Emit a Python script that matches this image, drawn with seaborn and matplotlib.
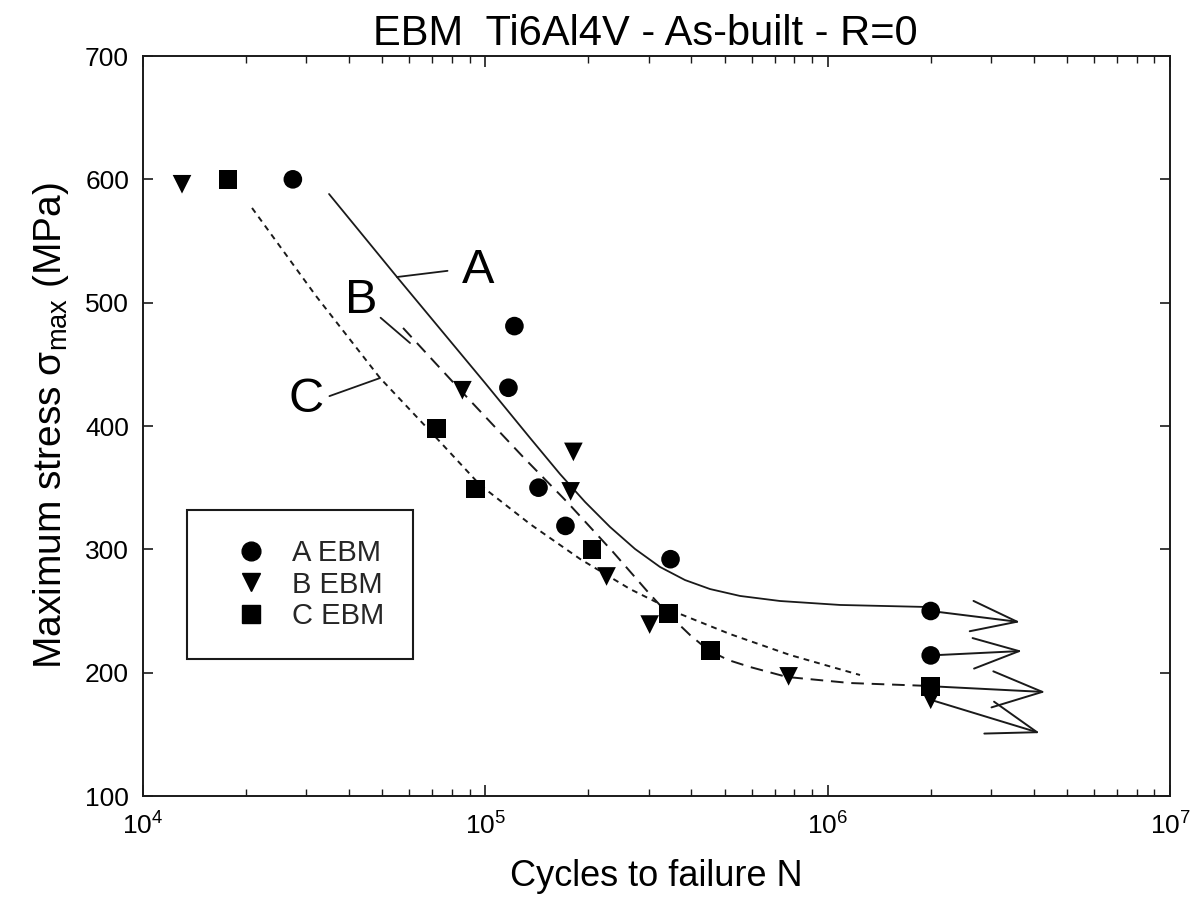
import numpy as np
import pandas as pd
import matplotlib
matplotlib.use("Agg")
import matplotlib.pyplot as plt
import seaborn as sns
from matplotlib.ticker import LogLocator, FixedLocator, NullLocator, LogFormatterSciNotation
from matplotlib.lines import Line2D

# ---------------- data ----------------
a_N = [27400, 121600, 116800, 143000, 171400, 347500, 2.0e6, 2.0e6]
a_S = [600, 481, 431, 350, 319, 292, 250, 214]
b_N = [13000, 85700, 180800, 177500, 226000, 302000, 769000, 2.0e6]
b_S = [596, 429, 379, 347, 278, 239, 197, 178]
c_N = [17700, 71900, 93500, 205000, 343000, 455000, 2.0e6]
c_S = [600, 398, 349, 300, 248, 218, 189]
series_names = ["A EBM", "B EBM", "C EBM"]

# S-N curves as drawn in the reference
curveA_N = [34950, 55200, 99800, 135100, 165200, 195600, 231400, 273700, 323800, 383100,
            453300, 554700, 726100, 1087000, 1990000]
curveA_S = [588.1, 520.8, 434.9, 390.3, 361.1, 338.4, 318.1, 300.3, 285.7, 275.1,
            267.8, 262.2, 258.1, 254.9, 253.2]
curveB_N = [57500, 85500, 128900, 173300, 236100, 296800, 339600, 396300, 447400, 511700,
            593300, 760800, 1163000, 1990000]
curveB_S = [479.5, 427.6, 374.9, 338.4, 297.8, 266.2, 248.4, 230.5, 218.4, 210.3,
            204.6, 196.5, 191.6, 189.2]
curveC_N = [20820, 32020, 49250, 68940, 96500, 135100, 189100, 264700, 370500, 518700,
            776700, 1243000]
curveC_S = [576.8, 505.4, 438.9, 395.9, 352.2, 320.5, 292.2, 267.8, 247.6, 231.3,
            214.3, 198.1]

# run-out arrows (start -> tip)
run_N0 = [2.0e6, 2.0e6, 2.0e6, 2.0e6]
run_S0 = [250, 214, 189, 178]
run_N1 = [3.65e6, 3.70e6, 4.32e6, 4.17e6]
run_S1 = [241, 217.6, 184.3, 151]
run_head = [(33, 11), (33, 11), (36, 13), (36, 12)]

# curve labels: text position and attach point on the curve
lab_txt = ["A", "B", "C"]
lab_N = [95200, 43350, 29930]
lab_S = [516, 491.6, 411.3]
lab_curveN = [55200, 60260, 49250]
lab_curveS = [520.8, 467.3, 438.9]
lab_relpos = [(0.0, 0.53), (1.0, 0.18), (1.0, 0.53)]
lab_shrink = [8, 0, 2]

x_ticks = [1e4, 1e5, 1e6, 1e7]
y_ticks = [100, 200, 300, 400, 500, 600, 700]

# ---------------- style ----------------
sns.set_theme(style="ticks")
plt.rcParams["font.family"] = ["Liberation Sans", "DejaVu Sans"]
plt.rcParams["mathtext.fontset"] = "custom"
plt.rcParams["mathtext.rm"] = "Liberation Sans"
plt.rcParams["mathtext.it"] = "Liberation Sans:italic"
plt.rcParams["mathtext.default"] = "regular"

INK = "#1a1a1a"

fig = plt.figure(figsize=(12.01, 9.05), dpi=100)
ax = fig.add_axes([143 / 1201, 1 - 796 / 905, (1170 - 143) / 1201, (796 - 56) / 905])
ax.set_xscale("log")

df = pd.DataFrame({
    "N": a_N + b_N + c_N,
    "S": a_S + b_S + c_S,
    "series": [series_names[0]] * len(a_N) + [series_names[1]] * len(b_N) + [series_names[2]] * len(c_N),
})
markers = {series_names[0]: "o", series_names[1]: "v", series_names[2]: "s"}

# curves
sns.lineplot(x=curveA_N, y=curveA_S, sort=False, estimator=None, color=INK, lw=1.3, ax=ax)
sns.lineplot(x=curveB_N, y=curveB_S, sort=False, estimator=None, color=INK, lw=1.4,
             linestyle=(0, (6.5, 4)), ax=ax)
sns.lineplot(x=curveC_N, y=curveC_S, sort=False, estimator=None, color=INK, lw=1.4,
             linestyle=(0, (3, 2.6)), ax=ax)

# run-out arrows
for n0, s0, n1, s1, (hl, hw) in zip(run_N0, run_S0, run_N1, run_S1, run_head):
    ax.annotate("", xy=(n1, s1), xytext=(n0, s0),
                arrowprops=dict(arrowstyle=f"->,head_length={hl},head_width={hw}",
                                mutation_scale=1, lw=1.4, color=INK,
                                shrinkA=0, shrinkB=0))

# data points
sns.scatterplot(data=df, x="N", y="S", style="series", markers=markers,
                color="black", s=180, linewidth=0, legend=False, ax=ax, zorder=5)

# curve labels
for t, n, s, cn, cs, rp, sh in zip(lab_txt, lab_N, lab_S, lab_curveN, lab_curveS, lab_relpos, lab_shrink):
    ax.annotate(t, xy=(cn, cs), xytext=(n, s), ha="center", va="baseline", fontsize=35,
                color="black",
                arrowprops=dict(arrowstyle="-", color=INK, lw=1.3, relpos=rp,
                                shrinkA=sh, shrinkB=0))

# legend
handles = [Line2D([], [], ls="none", marker=markers[nm], color="black", markersize=13.5)
           for nm in series_names]
leg = ax.legend(handles, series_names, loc="upper left",
                bbox_to_anchor=((187 - 143) / 1027, (796 - 510) / 740),
                fontsize=21, frameon=True, fancybox=False, framealpha=1,
                borderpad=1.0, labelspacing=0.12, handlelength=2.4, handletextpad=0.2,
                borderaxespad=0)
leg.get_frame().set_edgecolor(INK)
leg.get_frame().set_linewidth(1.5)

# axes
ax.set_xlim(x_ticks[0], x_ticks[-1])
ax.set_ylim(y_ticks[0], y_ticks[-1])
ax.xaxis.set_major_locator(FixedLocator(x_ticks))
ax.xaxis.set_major_formatter(LogFormatterSciNotation())
ax.xaxis.set_minor_locator(LogLocator(base=10, subs=np.arange(2, 10), numticks=20))
ax.yaxis.set_major_locator(FixedLocator(y_ticks))
ax.yaxis.set_minor_locator(NullLocator())
ax.tick_params(axis="both", which="both", direction="in", colors=INK, labelcolor="black")
ax.tick_params(axis="x", which="major", length=8, width=1.2, top=True, labelsize=19, pad=12)
ax.tick_params(axis="x", which="minor", length=5, width=1.0, top=True)
ax.tick_params(axis="y", which="major", length=7, width=1.2, right=True, labelsize=19, pad=10)
for sp in ax.spines.values():
    sp.set_color(INK)
    sp.set_linewidth(1.4)

ax.set_xlabel("Cycles to failure N", fontsize=26, labelpad=14, color="black")
ax.set_ylabel(r"Maximum stress $\sigma_{max}$ (MPa)", fontsize=28, labelpad=10, color="black")
ax.set_title("EBM  Ti6Al4V - As-built - R=0", fontsize=30, x=0.489, pad=8, color="black")

fig.savefig("out.png", dpi=100)
